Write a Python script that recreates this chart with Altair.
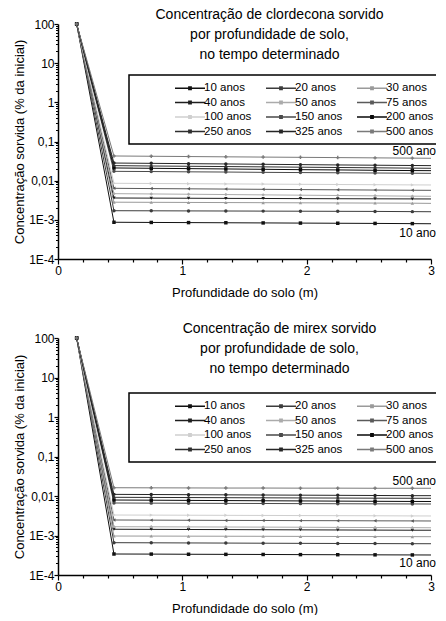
import altair as alt
import pandas as pd

FONT = "Liberation Sans"

SERIES = ["10 anos", "20 anos", "30 anos", "40 anos", "50 anos", "75 anos",
          "100 anos", "150 anos", "200 anos", "250 anos", "325 anos", "500 anos"]
GRAYS = ["#111111", "#3c3c3c", "#9a9a9a", "#1e1e1e", "#ababab", "#5a5a5a",
         "#cfcfcf", "#4a4a4a", "#0a0a0a", "#2e2e2e", "#262626", "#7a7a7a"]
SHAPES = ["square", "circle", "triangle-up", "triangle-down", "diamond", "triangle-left",
          "triangle-right", "circle", "square", "diamond", "circle", "cross"]

DEPTH = [0.15, 0.45, 0.75, 1.05, 1.35, 1.65, 1.95, 2.25, 2.55, 2.85, 3.0]
SURFACE = 100

# Clordecona (values after the surface point, depths 0.45 ... 3.0)
CLOR_10 = [0.000867, 0.000858, 0.000850, 0.000842, 0.000834, 0.000826, 0.000818, 0.000810, 0.000800, 0.000795]
CLOR_20 = [0.00171, 0.00170, 0.00169, 0.00168, 0.00167, 0.00166, 0.00165, 0.00164, 0.00162, 0.00161]
CLOR_30 = [0.00282, 0.00280, 0.00278, 0.00276, 0.00274, 0.00272, 0.00270, 0.00268, 0.00266, 0.00263]
CLOR_40 = [0.00361, 0.00358, 0.00356, 0.00353, 0.00351, 0.00348, 0.00346, 0.00344, 0.00342, 0.00341]
CLOR_50 = [0.00466, 0.00458, 0.00450, 0.00442, 0.00434, 0.00426, 0.00418, 0.00410, 0.00402, 0.00399]
CLOR_75 = [0.00638, 0.00628, 0.00619, 0.00610, 0.00601, 0.00592, 0.00584, 0.00576, 0.00569, 0.00567]
CLOR_100 = [0.00857, 0.00847, 0.00837, 0.00827, 0.00817, 0.00807, 0.00798, 0.00789, 0.00780, 0.00776]
CLOR_150 = [0.0173, 0.0171, 0.0168, 0.0166, 0.0163, 0.0161, 0.0159, 0.0157, 0.0155, 0.0154]
CLOR_200 = [0.0211, 0.0207, 0.0203, 0.0199, 0.0195, 0.0191, 0.0188, 0.0184, 0.0181, 0.0180]
CLOR_250 = [0.0242, 0.0237, 0.0233, 0.0229, 0.0225, 0.0221, 0.0217, 0.0213, 0.0209, 0.0207]
CLOR_325 = [0.0282, 0.0277, 0.0272, 0.0267, 0.0262, 0.0257, 0.0252, 0.0248, 0.0244, 0.0242]
CLOR_500 = [0.0427, 0.0420, 0.0413, 0.0406, 0.0400, 0.0394, 0.0388, 0.0382, 0.0376, 0.0373]

# Mirex
MIR_10 = [0.000340, 0.000338, 0.000335, 0.000333, 0.000331, 0.000328, 0.000326, 0.000324, 0.000322, 0.000321]
MIR_20 = [0.000658, 0.000653, 0.000648, 0.000643, 0.000638, 0.000633, 0.000628, 0.000624, 0.000620, 0.000619]
MIR_30 = [0.000970, 0.000966, 0.000962, 0.000958, 0.000954, 0.000949, 0.000944, 0.000939, 0.000935, 0.000933]
MIR_40 = [0.00144, 0.00143, 0.00142, 0.00141, 0.00140, 0.00139, 0.00138, 0.00137, 0.00136, 0.00136]
MIR_50 = [0.00167, 0.00166, 0.00165, 0.00164, 0.00163, 0.00162, 0.00160, 0.00159, 0.00158, 0.00157]
MIR_75 = [0.00247, 0.00245, 0.00243, 0.00241, 0.00240, 0.00238, 0.00237, 0.00235, 0.00234, 0.00233]
MIR_100 = [0.00330, 0.00328, 0.00326, 0.00324, 0.00322, 0.00320, 0.00318, 0.00316, 0.00313, 0.00312]
MIR_150 = [0.00665, 0.00660, 0.00655, 0.00650, 0.00646, 0.00641, 0.00637, 0.00633, 0.00629, 0.00627]
MIR_200 = [0.00792, 0.00783, 0.00774, 0.00766, 0.00758, 0.00750, 0.00742, 0.00735, 0.00728, 0.00726]
MIR_250 = [0.00927, 0.00920, 0.00913, 0.00906, 0.00899, 0.00893, 0.00887, 0.00881, 0.00876, 0.00875]
MIR_325 = [0.0110, 0.0109, 0.0108, 0.0107, 0.0106, 0.0105, 0.0104, 0.0103, 0.0102, 0.0102]
MIR_500 = [0.0162, 0.0161, 0.0160, 0.0159, 0.0159, 0.0158, 0.0158, 0.0157, 0.0157, 0.0157]

CLOR = [CLOR_10, CLOR_20, CLOR_30, CLOR_40, CLOR_50, CLOR_75, CLOR_100, CLOR_150, CLOR_200, CLOR_250, CLOR_325, CLOR_500]
MIR = [MIR_10, MIR_20, MIR_30, MIR_40, MIR_50, MIR_75, MIR_100, MIR_150, MIR_200, MIR_250, MIR_325, MIR_500]

TITLE_TOP = ["Concentração de clordecona sorvido", "por profundidade de solo,", "no tempo determinado"]
TITLE_BOT = ["Concentração de mirex sorvido", "por profundidade de solo,", "no tempo determinado"]
Y_TITLE = "Concentração sorvida (% da inicial)"
X_TITLE = "Profundidade do solo (m)"

X_MAJOR = [0, 1, 2, 3]
X_MINOR = [round(i * 0.2, 1) for i in range(16) if i % 5 != 0]
Y_MAJOR = [1e-4, 1e-3, 1e-2, 1e-1, 1.0, 10.0, 100.0]
Y_MINOR = [k * 10.0 ** e for e in range(-4, 2) for k in range(2, 10)]


def panel_df(series_values):
    rows = []
    for name, vals in zip(SERIES, series_values):
        ys = [SURFACE] + vals
        for i, (d, v) in enumerate(zip(DEPTH, ys)):
            rows.append({"serie": name, "prof": d, "conc": v, "ordem": i, "marca": d < 2.95})
    return pd.DataFrame(rows)


Y_LABELS = ("datum.value < 0.0005 ? '1E-4' : datum.value < 0.005 ? '1E-3' : "
            "datum.value < 0.05 ? '0,01' : datum.value < 0.5 ? '0,1' : datum.value < 5 ? '1' : "
            "datum.value < 50 ? '10' : '100'")

AXIS_COMMON = dict(grid=False, domainColor="black", tickColor="black", labelFont=FONT,
                   labelFontSize=12, labelColor="black", titleFont=FONT, titleFontSize=13,
                   titleFontWeight="normal", titleColor="black")


def panel(df, title_lines, title_dx, height, legend_y, dy500, dy10):
    xscale = alt.Scale(domain=[0, 3], nice=False, zero=False)
    yscale = alt.Scale(type="log", domain=[1e-4, 100], nice=False)
    xaxis = alt.Axis(values=X_MAJOR, format="d", tickSize=5, tickWidth=1.2, domainWidth=1.5,
                     labelFlush=False, labelPadding=1, titlePadding=10, orient="bottom", **AXIS_COMMON)
    yaxis = alt.Axis(values=Y_MAJOR, labelExpr=Y_LABELS, tickSize=4, tickWidth=1.2, domainWidth=1.5,
                     labelPadding=0, titlePadding=2, orient="left", **AXIS_COMMON)
    xminor = alt.Axis(values=X_MINOR, labels=False, domain=False, tickSize=3, tickWidth=1.2,
                      orient="bottom", grid=False, tickColor="black")
    yminor = alt.Axis(values=Y_MINOR, labels=False, domain=False, tickSize=2.5, tickWidth=1,
                      orient="left", grid=False, tickColor="black")
    legend = alt.Legend(orient="none", legendX=71, legendY=legend_y, columns=3, direction="horizontal",
                        title="\u00a0", titleOrient="left", titlePadding=48, titleFontSize=11, padding=7,
                        strokeColor="black", fillColor="white",
                        symbolType="M-3,0H3M-0.25,-0.25H0.25V0.25H-0.25Z", symbolSize=100,
                        symbolStrokeWidth=1.3, labelFont=FONT, labelFontSize=11.5,
                        labelColor="black", labelOffset=8, columnPadding=11, rowPadding=2.5)
    color_scale = alt.Scale(domain=SERIES, range=GRAYS)
    base = alt.Chart(df)
    lines = base.mark_line(strokeWidth=1).encode(
        x=alt.X("prof:Q", scale=xscale, axis=xaxis, title=X_TITLE),
        y=alt.Y("conc:Q", scale=yscale, axis=yaxis, title=Y_TITLE),
        color=alt.Color("serie:N", scale=color_scale, legend=legend),
        order="ordem:Q",
    )
    pts = base.transform_filter("datum.marca").mark_point(filled=True, size=12, opacity=1).encode(
        x=alt.X("prof:Q", scale=xscale, axis=xminor, title=None),
        y=alt.Y("conc:Q", scale=yscale, axis=yminor, title=None),
        color=alt.Color("serie:N", scale=color_scale, legend=None),
        shape=alt.Shape("serie:N", scale=alt.Scale(domain=SERIES, range=SHAPES), legend=None),
    )
    lab500 = base.transform_filter("datum.serie == '500 anos' && datum.prof == 3").mark_text(
        align="right", dx=11, dy=dy500, font=FONT, fontSize=12, color="black").encode(
        x=alt.X("prof:Q", axis=None), y=alt.Y("conc:Q", axis=None), text="serie:N")
    lab10 = base.transform_filter("datum.serie == '10 anos' && datum.prof == 3").mark_text(
        align="right", dx=11, dy=dy10, font=FONT, fontSize=12, color="black").encode(
        x=alt.X("prof:Q", axis=None), y=alt.Y("conc:Q", axis=None), text="serie:N")
    return alt.layer(lines, pts, lab500, lab10).resolve_axis(
        x="independent", y="independent").resolve_legend(
        color="independent", shape="independent").properties(
        width=373, height=height,
        title=alt.TitleParams(text=title_lines, font=FONT, fontSize=14, fontWeight="normal",
                              color="black", anchor="middle", frame="group", dx=title_dx, offset=-44,
                              lineHeight=20),
    )


top = panel(panel_df(CLOR), TITLE_TOP, 25, 235, 51, -7, 9)
bot = panel(panel_df(MIR), TITLE_BOT, 35, 237, 55, -7, 8)

chart = alt.vconcat(top, bot, spacing=23).resolve_legend(color="independent", shape="independent").properties(
    padding={"left": 5, "top": 0, "right": -6, "bottom": 0}
).configure_view(stroke=None).configure_legend(strokeWidth=1.5)

chart.save("out.html", embed_options={"renderer": "svg", "actions": False})
